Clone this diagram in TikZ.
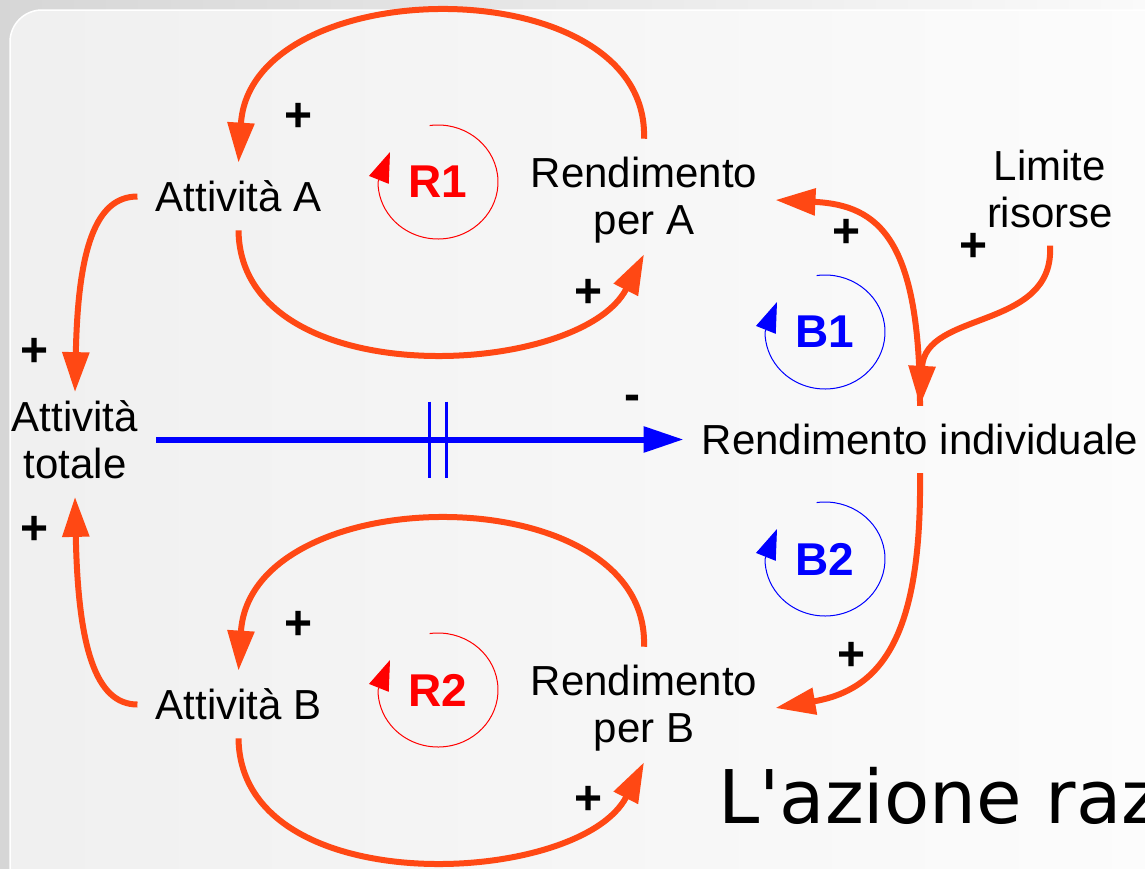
\documentclass[tikz,border=0pt]{standalone}
\usepackage{fontspec}
\setmainfont{Liberation Sans}
\newfontfamily\slidefont{DejaVu Sans}
\usetikzlibrary{arrows.meta}
\definecolor{cldorange}{RGB}{255,72,20}
\definecolor{cldred}{RGB}{255,0,0}
\definecolor{cldblue}{RGB}{0,0,255}

\begin{document}
\begin{tikzpicture}[x=1pt,y=-1pt,
  var/.style={font=\fontsize{42}{47}\selectfont,align=center,inner sep=18pt},
  link/.style={cldorange,line width=6pt,-{Triangle[length=40pt,width=26pt]}},
  sign/.style={font=\fontsize{48}{48}\bfseries\selectfont,inner sep=0pt},
  looplbl/.style={font=\fontsize{46}{46}\bfseries\selectfont,inner sep=0pt},
  loopmark/.style={line width=1pt,-{Triangle[length=30pt,width=21pt]}},
  delay/.style={cldblue,line width=3pt}]
\useasboundingbox (0,0) rectangle (1145,868);
\clip (0,0) rectangle (1145,868);
% slide background
\shade[left color=black!16,right color=black!2] (0,0) rectangle (1145,868);
\shade[left color=black!6,right color=black!1,rounded corners=32pt] (10,10) rectangle (1200,940);
\draw[white,line width=1.5pt,rounded corners=32pt] (10,10) rectangle (1200,940);
% variables
\node[var] (attA) at (238.5,196.5) {Attività A};
\node[var] (attB) at (238.5,704.5) {Attività B};
\node[var] (attTot) at (75,439.5) {Attività\\totale};
\node[var] (rendA) at (644,200) {Rendimento\\per A};
\node[var] (rendB) at (644,708) {Rendimento\\per B};
\node[var] (rendInd) at (920,439.5) {Rendimento individuale};
\node[var] (limite) at (1050,188.5) {Limite\\risorse};
% causal links
\draw[link] (rendA.north) .. controls +(6,-172) and +(12,-193) .. (attA.north);
\draw[link] (attA.south) .. controls +(2,165) and +(-64,125) .. ([yshift=7pt]rendA.south);
\draw[link] (rendB.north) .. controls +(6,-172) and +(12,-193) .. (attB.north);
\draw[link] (attB.south) .. controls +(2,165) and +(-64,125) .. ([yshift=7pt]rendB.south);
\draw[link] (attA.west) .. controls +(-42,0) and +(3,-143) .. ([yshift=-10pt]attTot.north);
\draw[link] (attB.west) .. controls +(-42,0) and +(3,150) .. (attTot.south);
\draw[link] (limite.south) .. controls +(5,85) and +(5,-96) .. (rendInd.north);
\draw[link] (rendInd.north) .. controls +(0,-166) and +(104,5) .. (rendA.east);
\draw[link] (rendInd.south) .. controls +(2,167) and +(104,-18) .. (rendB.east);
\draw[cldblue,line width=6pt,-{Triangle[length=40pt,width=25pt]}] (attTot.east)
  -- coordinate[pos=0.519] (dl1) coordinate[pos=0.55] (dl2) (rendInd.west);
\draw[delay] ([yshift=38pt]dl1) -- ([yshift=-38pt]dl1);
\draw[delay] ([yshift=38pt]dl2) -- ([yshift=-38pt]dl2);
% polarities
\node[sign] (p1) at (299,117) {+};
\node[sign] (p2) at (589,293) {+};
\node[sign] (p3) at (847,233) {+};
\node[sign] (p4) at (974,247) {+};
\node[sign] (p5) at (35,352) {+};
\node[sign] (p6) at (35,530) {+};
\node[sign] (p7) at (299,625) {+};
\node[sign] (p8) at (852,656) {+};
\node[sign] (p9) at (589,800) {+};
\node[sign] (m1) at (632,403) {-};
% loop markers
\node[looplbl,text=cldred] (r1) at (438,182) {R1};
\node[looplbl,text=cldred] (r2) at (438,690) {R2};
\node[looplbl,text=cldblue] (b1) at (825,332) {B1};
\node[looplbl,text=cldblue] (b2) at (825,559) {B2};
\draw[loopmark,cldred] (r1.center) ++(262:60 and 57) arc[start angle=262,end angle=540,x radius=60,y radius=57] -- ++(12,-30);
\draw[loopmark,cldred] (r2.center) ++(262:60 and 57) arc[start angle=262,end angle=540,x radius=60,y radius=57] -- ++(12,-30);
\draw[loopmark,cldblue] (b1.center) ++(262:60 and 57) arc[start angle=262,end angle=540,x radius=60,y radius=57] -- ++(12,-30);
\draw[loopmark,cldblue] (b2.center) ++(262:60 and 57) arc[start angle=262,end angle=540,x radius=60,y radius=57] -- ++(12,-30);
% slide text
\node[font=\slidefont\fontsize{74}{90}\selectfont,anchor=base west,inner sep=0pt] (azione) at (718,823) {L\textquotesingle azione raz};
\end{tikzpicture}
\end{document}
